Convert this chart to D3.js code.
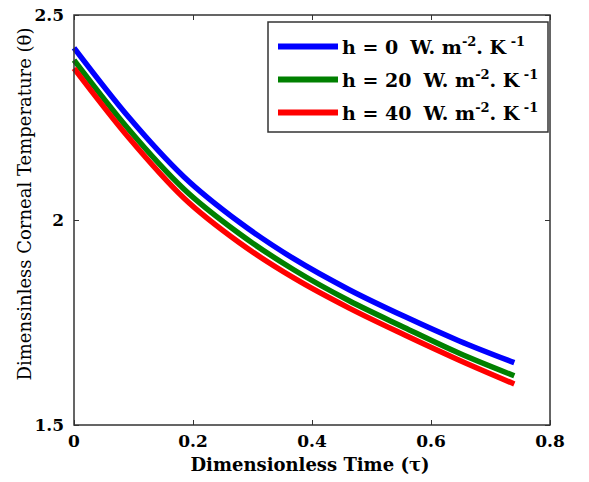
<!DOCTYPE html>
<meta charset="utf-8">
<style>
  body { margin: 0; background: #fff; }
</style>
<body>
<svg id="chart" width="589" height="482"></svg>
<script src="https://d3js.org/d3.v7.min.js"></script>
<script>
  const tau = [0, 0.0925, 0.185, 0.2775, 0.37, 0.4625, 0.555, 0.6475, 0.74];
  const h0  = [2.42, 2.25, 2.105, 1.995, 1.905, 1.83, 1.765, 1.705, 1.652];
  const h20 = [2.39, 2.22, 2.075, 1.967, 1.878, 1.803, 1.738, 1.675, 1.62];
  const h40 = [2.37, 2.20, 2.053, 1.945, 1.858, 1.785, 1.72, 1.658, 1.60];
  const seriesNames = ["h = 0", "h = 20", "h = 40"];
  const colors = ["#0000ff", "#008000", "#ff0000"];
  const xTicks = [0, 0.2, 0.4, 0.6, 0.8];
  const yTicks = [1.5, 2, 2.5];

  const FONT = "DejaVu Serif";
  const svg = d3.select("#chart");
  const m = { left: 74, right: 39, top: 15, bottom: 57 };
  const W = 589 - m.left - m.right, H = 482 - m.top - m.bottom;

  const x = d3.scaleLinear().domain([0, 0.8]).range([m.left, m.left + W]);
  const y = d3.scaleLinear().domain([1.5, 2.5]).range([m.top + H, m.top]);

  const line = d3.line().curve(d3.curveMonotoneX).x(d => x(d[0])).y(d => y(d[1]));
  [h0, h20, h40].forEach((s, i) => {
    svg.append("path")
      .datum(tau.map((t, j) => [t, s[j]]))
      .attr("d", line)
      .attr("fill", "none")
      .attr("stroke", colors[i])
      .attr("stroke-width", 5.5)
      .attr("stroke-linejoin", "round");
  });

  // frame + inward ticks
  const axColor = "#333";
  svg.append("g").attr("transform", `translate(0,${m.top + H})`)
    .call(d3.axisTop(x).tickValues(xTicks).tickSize(5).tickFormat(""));
  svg.append("g").attr("transform", `translate(0,${m.top})`)
    .call(d3.axisBottom(x).tickValues(xTicks).tickSize(5).tickFormat(""));
  svg.append("g").attr("transform", `translate(${m.left},0)`)
    .call(d3.axisRight(y).tickValues(yTicks).tickSize(5).tickFormat(""));
  svg.append("g").attr("transform", `translate(${m.left + W},0)`)
    .call(d3.axisLeft(y).tickValues(yTicks).tickSize(5).tickFormat(""));
  svg.selectAll(".domain").remove();
  svg.selectAll(".tick line").attr("stroke", axColor);
  svg.append("rect").attr("x", m.left).attr("y", m.top).attr("width", W).attr("height", H)
    .attr("fill", "none").attr("stroke", axColor).attr("stroke-width", 1.5);

  // tick labels
  svg.selectAll(".xl").data(xTicks).join("text")
    .attr("font-family", FONT)
    .attr("x", d => x(d)).attr("y", m.top + H + 22)
    .attr("text-anchor", "middle").attr("font-size", 17).attr("font-weight", "bold")
    .text(d => d);
  svg.selectAll(".yl").data(yTicks).join("text")
    .attr("font-family", FONT)
    .attr("x", m.left - 10).attr("y", d => y(d) + 6)
    .attr("text-anchor", "end").attr("font-size", 17).attr("font-weight", "bold")
    .text(d => d === 2 ? "2" : d.toFixed(1));

  // axis titles
  svg.append("text").attr("font-family", FONT)
    .attr("x", x(0.4) - 2).attr("y", 471)
    .attr("text-anchor", "middle").attr("font-size", 18).attr("font-weight", "bold")
    .text("Dimensionless Time (τ)");
  svg.append("text").attr("font-family", FONT)
    .attr("transform", `translate(31,${y(2) - 16}) rotate(-90)`)
    .attr("text-anchor", "middle").attr("font-size", 18)
    .text("Dimensinless Corneal Temperature  (θ)");

  // legend
  const lg = svg.append("g");
  lg.append("rect").attr("x", 268).attr("y", 22).attr("width", 280).attr("height", 110)
    .attr("fill", "#fff").attr("stroke", axColor).attr("stroke-width", 1.5);
  seriesNames.forEach((n, i) => {
    const ly = 46.5 + i * 33;
    lg.append("line").attr("x1", 278).attr("x2", 338).attr("y1", ly).attr("y2", ly)
      .attr("stroke", colors[i]).attr("stroke-width", 6);
    const t = lg.append("text").attr("font-family", FONT)
      .attr("x", 342).attr("y", ly + 7)
      .attr("font-size", 19).attr("font-weight", "bold");
    t.append("tspan").text(n);
    t.append("tspan").attr("dx", 12).text("W. m");
    t.append("tspan").attr("dy", -8).attr("font-size", 13).text("-2");
    t.append("tspan").attr("dy", 8).text(". K");
    t.append("tspan").attr("dy", -8).attr("font-size", 13).text(" -1");
  });
</script>
</body>
